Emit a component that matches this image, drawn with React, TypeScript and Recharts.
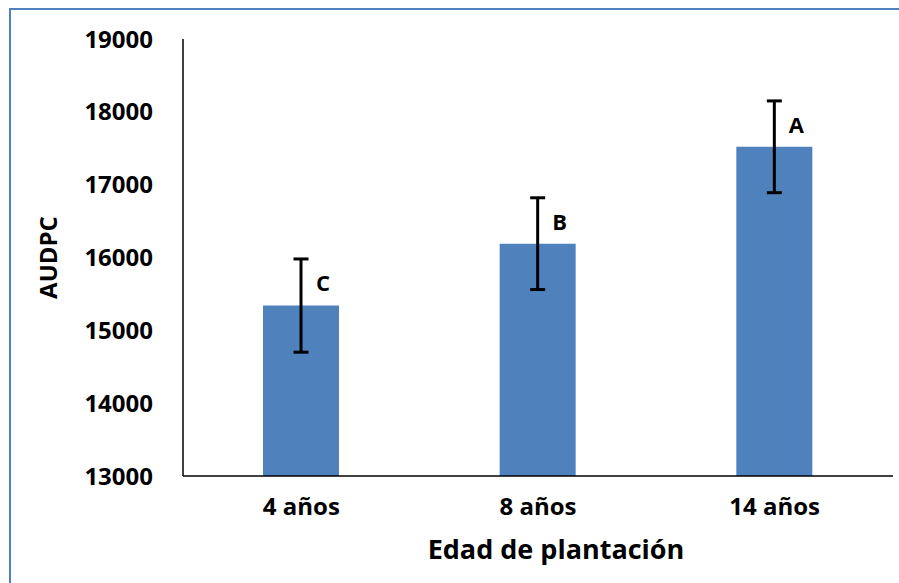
import React from 'react';
import { BarChart, Bar, XAxis, YAxis, ErrorBar, LabelList } from 'recharts';

const categories = ['4 años', '8 años', '14 años'];
const audpc = [15340, 16190, 17520];
const errors = [640, 630, 630];
const letters = ['C', 'B', 'A'];
const yTicks = [13000, 14000, 15000, 16000, 17000, 18000, 19000];

const data = categories.map((name, i) => ({
  name,
  value: audpc[i],
  err: errors[i],
  letter: letters[i],
}));

const font = '"Open Sans", sans-serif';
const yMin = 13000;

const LetterLabel = (props: any) => {
  const { x, y, width, height, index } = props;
  const d = data[index];
  const pxPerUnit = height / (d.value - yMin);
  const cy = y - (d.err * pxPerUnit) / 2;
  return (
    <text
      x={x + width / 2 + 22}
      y={cy}
      textAnchor="middle"
      dominantBaseline="central"
      fontFamily={font}
      fontWeight={700}
      fontSize={22}
      fill="#000"
    >
      {d.letter}
    </text>
  );
};

export default function App() {
  return (
    <div style={{ position: 'relative', width: 899, height: 583, overflow: 'hidden', background: '#fff' }}>
      <style>{'body{margin:0}'}</style>
      <div
        style={{
          position: 'absolute',
          left: 9,
          top: 8,
          width: 1000,
          height: 1000,
          borderTop: '2px solid #4f81bd',
          borderLeft: '2px solid #4f81bd',
        }}
      />
      <div style={{ position: 'absolute', left: 0, top: 0 }}>
        <BarChart
          width={899}
          height={583}
          data={data}
          margin={{ top: 39, right: 6, left: 30, bottom: 17 }}
        >
          <XAxis
            dataKey="name"
            height={90}
            axisLine={{ stroke: '#000', strokeWidth: 1.5 }}
            tickLine={false}
            tickSize={0}
            tickMargin={22}
            tick={{ fill: '#000', fontFamily: font, fontWeight: 700, fontSize: 24 }}
            label={{
              value: 'Edad de plantación',
              position: 'insideBottom',
              offset: 7,
              dx: 18,
              fill: '#000',
              fontFamily: font,
              fontWeight: 700,
              fontSize: 27,
            }}
          />
          <YAxis
            width={153}
            domain={[13000, 19000]}
            ticks={yTicks}
            interval={0}
            axisLine={{ stroke: '#000', strokeWidth: 1.5 }}
            tickLine={false}
            tickSize={0}
            tickMargin={30}
            tick={{ fill: '#000', fontFamily: font, fontWeight: 700, fontSize: 24 }}
            label={{
              value: 'AUDPC',
              angle: -90,
              position: 'insideLeft',
              offset: 18,
              fill: '#000',
              fontFamily: font,
              fontWeight: 700,
              fontSize: 24,
              style: { textAnchor: 'middle' },
            }}
          />
          <Bar dataKey="value" fill="#4f81bd" barSize={76} isAnimationActive={false}>
            <ErrorBar dataKey="err" width={7.5} stroke="#000" strokeWidth={3} direction="y" />
            <LabelList dataKey="letter" content={<LetterLabel />} />
          </Bar>
        </BarChart>
      </div>
    </div>
  );
}
